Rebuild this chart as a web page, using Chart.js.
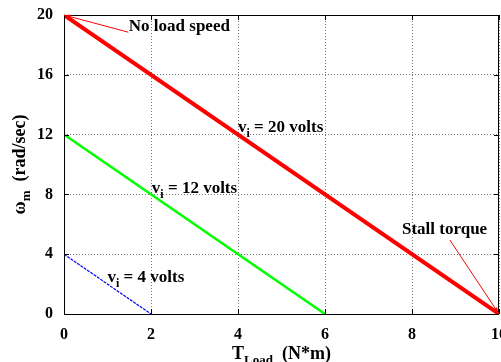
<!DOCTYPE html>
<html>
<head>
<meta charset="utf-8">
<script src="https://cdn.jsdelivr.net/npm/chart.js@4/dist/chart.umd.min.js"></script>
<style>
  html, body { margin: 0; padding: 0; background: #fff; }
  #wrap { width: 501px; height: 362px; }
</style>
</head>
<body>
<div id="wrap"><canvas id="speedChart" width="501" height="362"></canvas></div>
<script>
// torque-speed lines for three input voltages
const torque20 = [0, 10];
const speed20 = [20, 0];
const torque12 = [0, 6];
const speed12 = [12, 0];
const torque4 = [0, 2];
const speed4 = [4, 0];

const xTicks = [0, 2, 4, 6, 8, 10];
const yTicks = [0, 4, 8, 12, 16, 20];

const FONT = '"Liberation Serif", "Times New Roman", serif';

function toPoints(xs, ys) {
    return xs.map((x, i) => ({ x: x, y: ys[i] }));
}

// draw "main" + subscript + rest, starting at x (left), baseline y
function subText(ctx, x, y, main, sub, rest, size) {
    ctx.font = 'bold ' + size + 'px ' + FONT;
    ctx.fillText(main, x, y);
    let w = ctx.measureText(main).width;
    ctx.font = 'bold ' + Math.round(size * 0.72) + 'px ' + FONT;
    ctx.fillText(sub, x + w, y + size * 0.28);
    w += ctx.measureText(sub).width;
    ctx.font = 'bold ' + size + 'px ' + FONT;
    ctx.fillText(rest, x + w, y);
}

function subWidth(ctx, main, sub, rest, size) {
    ctx.font = 'bold ' + size + 'px ' + FONT;
    let w = ctx.measureText(main).width + ctx.measureText(rest).width;
    ctx.font = 'bold ' + Math.round(size * 0.72) + 'px ' + FONT;
    return w + ctx.measureText(sub).width;
}

function arrow(ctx, x1, y1, x2, y2) {
    ctx.beginPath();
    ctx.moveTo(x1, y1);
    ctx.lineTo(x2, y2);
    ctx.stroke();
    const a = Math.atan2(y2 - y1, x2 - x1);
    const len = 7;
    ctx.beginPath();
    ctx.moveTo(x2, y2);
    ctx.lineTo(x2 - len * Math.cos(a - 0.3), y2 - len * Math.sin(a - 0.3));
    ctx.lineTo(x2 - len * Math.cos(a + 0.3), y2 - len * Math.sin(a + 0.3));
    ctx.closePath();
    ctx.fill();
}

const notesPlugin = {
    id: 'notes',
    afterDraw(chart) {
        const ctx = chart.ctx;
        const xs = chart.scales.x, ys = chart.scales.y;
        const area = chart.chartArea;
        const px = v => xs.getPixelForValue(v);
        const py = v => ys.getPixelForValue(v);

        ctx.save();
        // frame + inward tick marks
        ctx.strokeStyle = '#000';
        ctx.lineWidth = 1;
        ctx.strokeRect(area.left + 0.5, area.top + 0.5, area.right - area.left - 1, area.bottom - area.top);
        ctx.beginPath();
        xTicks.forEach(t => {
            const x = Math.round(px(t)) + 0.5;
            ctx.moveTo(x, area.bottom); ctx.lineTo(x, area.bottom - 5);
            ctx.moveTo(x, area.top); ctx.lineTo(x, area.top + 5);
        });
        yTicks.forEach(t => {
            const y = Math.round(py(t)) + 0.5;
            ctx.moveTo(area.left, y); ctx.lineTo(area.left + 5, y);
            ctx.moveTo(area.right, y); ctx.lineTo(area.right - 5, y);
        });
        ctx.stroke();

        // annotation arrows
        ctx.strokeStyle = '#ff0000';
        ctx.fillStyle = '#ff0000';
        ctx.lineWidth = 1;
        arrow(ctx, px(1.48), py(18.85), px(0), py(20));
        arrow(ctx, px(8.87), py(4.95), px(10), py(0));

        // annotation text
        ctx.fillStyle = '#000';
        ctx.textAlign = 'left';
        ctx.textBaseline = 'alphabetic';
        ctx.font = 'bold 17px ' + FONT;
        ctx.fillText('No load speed', px(1.49), py(18.9));
        ctx.fillText('Stall torque', px(7.77), py(5.35));
        subText(ctx, px(4.0), py(12.15), 'v', 'i', ' = 20 volts', 17);
        subText(ctx, px(2.02), py(8.1), 'v', 'i', ' = 12 volts', 17);
        subText(ctx, px(1.0), py(2.14), 'v', 'i', ' = 4 volts', 17);

        // axis titles
        const cx = (area.left + area.right) / 2;
        const xw = subWidth(ctx, 'T', 'Load', '  (N*m)', 18);
        subText(ctx, cx - xw / 2, 359, 'T', 'Load', '  (N*m)', 18);

        const cy = (area.top + area.bottom) / 2;
        const yw = subWidth(ctx, '\u03c9', 'm', '  (rad/sec)', 18);
        ctx.translate(25, cy);
        ctx.rotate(-Math.PI / 2);
        subText(ctx, -yw / 2, 0, '\u03c9', 'm', '  (rad/sec)', 18);
        ctx.restore();
    }
};

const ctx = document.getElementById('speedChart').getContext('2d');
const speedChart = new Chart(ctx, {
    type: 'line',
    data: {
        datasets: [
            {
                label: 'vi = 20 volts',
                data: toPoints(torque20, speed20),
                borderColor: '#ff0000',
                borderWidth: 4,
                pointRadius: 0
            },
            {
                label: 'vi = 12 volts',
                data: toPoints(torque12, speed12),
                borderColor: '#00ff00',
                borderWidth: 2.5,
                pointRadius: 0
            },
            {
                label: 'vi = 4 volts',
                data: toPoints(torque4, speed4),
                borderColor: '#0000ff',
                borderWidth: 1.2,
                borderDash: [3, 1],
                pointRadius: 0
            }
        ]
    },
    options: {
        responsive: false,
        animation: false,
        layout: { padding: { top: 15, right: 2, left: 0, bottom: 0 } },
        plugins: {
            legend: { display: false },
            tooltip: { enabled: false }
        },
        scales: {
            x: {
                type: 'linear',
                min: 0,
                max: 10,
                afterBuildTicks: s => { s.ticks = xTicks.map(v => ({ value: v })); },
                afterFit: s => { s.height = 48; s.paddingLeft = 0; s.paddingRight = 0; },
                grid: { color: '#777', lineWidth: 1, drawTicks: false },
                border: { display: false, dash: [1, 2] },
                ticks: {
                    color: '#000',
                    padding: 11,
                    maxRotation: 0,
                    font: { family: FONT, size: 16, weight: 'bold' }
                }
            },
            y: {
                min: 0,
                max: 20,
                afterBuildTicks: s => { s.ticks = yTicks.map(v => ({ value: v })); },
                afterFit: s => { s.width = 64; s.paddingTop = 0; s.paddingBottom = 0; },
                grid: { color: '#777', lineWidth: 1, drawTicks: false },
                border: { display: false, dash: [1, 2] },
                ticks: {
                    color: '#000',
                    padding: 11,
                    font: { family: FONT, size: 16, weight: 'bold' }
                }
            }
        }
    },
    plugins: [notesPlugin]
});
</script>
</body>
</html>
